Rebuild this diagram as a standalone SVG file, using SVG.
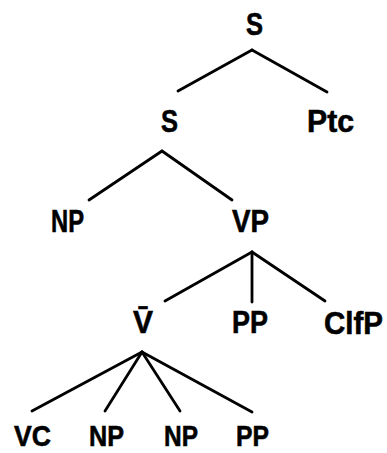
<svg xmlns="http://www.w3.org/2000/svg" width="387" height="453" viewBox="0 0 387 453">
<style>
.lbl{font-family:"Liberation Sans",Arial,sans-serif;font-weight:bold;font-size:32px;fill:#000;stroke:#000;stroke-width:0.6}
.bot{font-size:30px}
.edge{stroke:#000;stroke-width:2.8;stroke-linecap:round;fill:none}
</style>
<rect width="387" height="453" fill="#fff"/>
<g id="connectors">
<line class="edge" x1="252" y1="50" x2="178" y2="91"/>
<line class="edge" x1="252" y1="50" x2="327" y2="92"/>
<line class="edge" x1="162" y1="151" x2="89" y2="200"/>
<line class="edge" x1="162" y1="151" x2="232" y2="200"/>
<line class="edge" x1="252" y1="252" x2="165" y2="301"/>
<line class="edge" x1="252" y1="252" x2="252" y2="302"/>
<line class="edge" x1="252" y1="252" x2="325" y2="301"/>
<line class="edge" x1="142" y1="352" x2="32" y2="411"/>
<line class="edge" x1="142" y1="352" x2="105" y2="411"/>
<line class="edge" x1="142" y1="352" x2="180" y2="411"/>
<line class="edge" x1="142" y1="352" x2="252" y2="412"/>
</g>
<g id="S-root"><text class="lbl" x="246" y="35" textLength="17" lengthAdjust="spacingAndGlyphs">S</text></g>
<g id="S"><text class="lbl" x="161" y="132" textLength="17" lengthAdjust="spacingAndGlyphs">S</text></g>
<g id="Ptc"><text class="lbl" x="307" y="132" textLength="47" lengthAdjust="spacingAndGlyphs">Ptc</text></g>
<g id="NP-subj"><text class="lbl" x="51" y="232" textLength="33" lengthAdjust="spacingAndGlyphs">NP</text></g>
<g id="VP"><text class="lbl" x="232" y="232" textLength="37" lengthAdjust="spacingAndGlyphs">VP</text></g>
<g id="Vbar"><text class="lbl" x="133" y="333" textLength="20" lengthAdjust="spacingAndGlyphs">V̄</text></g>
<g id="PP-vp"><text class="lbl" x="232" y="333" textLength="36" lengthAdjust="spacingAndGlyphs">PP</text></g>
<g id="ClfP"><text class="lbl" x="324" y="334" textLength="59" lengthAdjust="spacingAndGlyphs">ClfP</text></g>
<g id="VC"><text class="lbl bot" x="14" y="446" textLength="37" lengthAdjust="spacingAndGlyphs">VC</text></g>
<g id="NP-1"><text class="lbl bot" x="89" y="446" textLength="35" lengthAdjust="spacingAndGlyphs">NP</text></g>
<g id="NP-2"><text class="lbl bot" x="164" y="446" textLength="34" lengthAdjust="spacingAndGlyphs">NP</text></g>
<g id="PP"><text class="lbl bot" x="236" y="446" textLength="33" lengthAdjust="spacingAndGlyphs">PP</text></g>
</svg>
